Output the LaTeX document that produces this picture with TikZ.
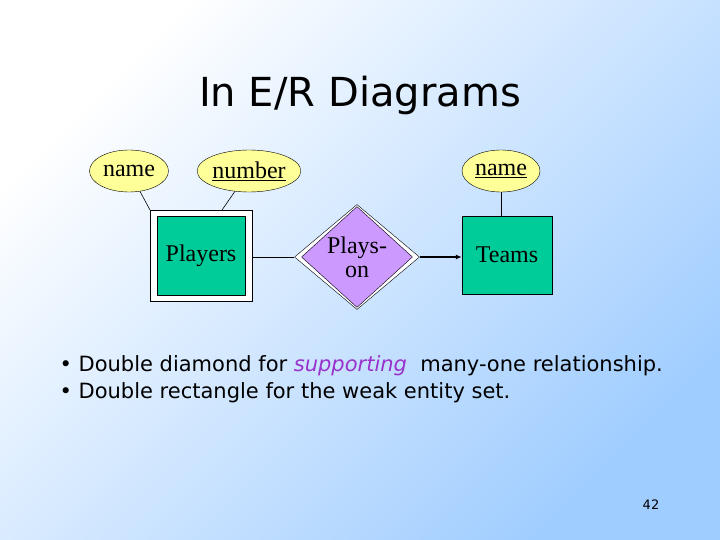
\documentclass[tikz,border=0pt]{standalone}
\usepackage{fontspec}
\setmainfont{Liberation Serif}
\newfontfamily\vsans{DejaVu Sans}
\usetikzlibrary{shapes.geometric,arrows.meta}
\definecolor{ent}{RGB}{0,204,153}
\definecolor{attr}{RGB}{255,255,153}
\definecolor{rel}{RGB}{204,153,255}
\definecolor{bgblue}{RGB}{160,205,255}
\definecolor{supp}{RGB}{153,51,204}
\tikzset{
  attrnode/.style={ellipse,draw,fill=attr,inner sep=0pt,font=\fontsize{24}{26}\selectfont},
  entbox/.style={draw,fill=ent,font=\fontsize{24}{26}\selectfont},
  link/.style={draw,line width=0.6pt}
}
\begin{document}
\begin{tikzpicture}[x=1pt,y=-1pt]
\useasboundingbox (0,0) rectangle (720,540);
\shade[left color=white,right color=bgblue,shading angle=45] (0,0) rectangle (720,540);
\node[font=\vsans\fontsize{40}{44}\selectfont] (title) at (360,95) {In E/R Diagrams};
% attributes
\node[attrnode,minimum width=79pt,minimum height=42pt] (n1) at (129,171) {name};
\node[attrnode,minimum width=92pt,minimum height=42pt] (num) at (249,171) {\underline{number}};
\node[attrnode,minimum width=78pt,minimum height=42pt] (n2) at (501,171) {\underline{name}};
% Players double rectangle
\node[draw,fill=white,minimum width=102pt,minimum height=91pt] (pout) at (201,255.5) {};
\node[entbox,minimum width=88pt,minimum height=79pt] (pl) at (201,255.5) {Players};
% diamond
\node[diamond,draw,fill=white,minimum width=125pt,minimum height=105pt,inner sep=0pt] (dout) at (357,257) {};
\node[diamond,draw,fill=rel,minimum width=111pt,minimum height=91pt,inner sep=0pt,align=center,font=\fontsize{24}{24}\selectfont] (d) at (357,257) {Plays-\\on};
% Teams
\node[entbox,minimum width=90pt,minimum height=78pt] (tm) at (507,255) {Teams};
% connectors
\coordinate (c1) at (150,210);
\coordinate (c2) at (222,210);
\draw[link] (n1) -- (c1);
\draw[link] (num) -- (c2);
\draw[link] (n2.south) -- (n2.south |- tm.north);
\draw[link] (pout.east |- dout.west) -- (dout.west);
\draw[line width=1.6pt,-{Latex[length=6pt,width=5pt]}] (dout.east) -- (tm.west |- dout.east);
% bullets
\node[anchor=west,font=\vsans\fontsize{21}{24}\selectfont] (b1) at (56,366) {• Double diamond for \textcolor{supp}{\itshape supporting} \ many-one relationship.};
\node[anchor=west,font=\vsans\fontsize{21}{24}\selectfont] (b2) at (56,393) {• Double rectangle for the weak entity set.};
\node[font=\vsans\fontsize{13}{14}\selectfont] (pg) at (651,505) {42};
\end{tikzpicture}
\end{document}
